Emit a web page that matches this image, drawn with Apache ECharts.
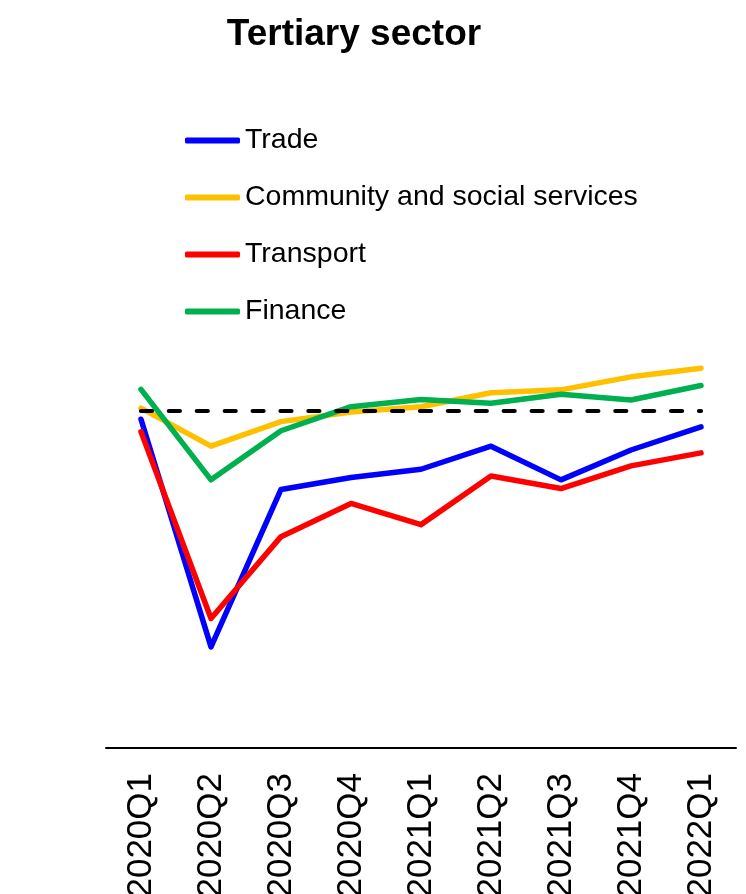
<!DOCTYPE html>
<html>
<head>
<meta charset="utf-8">
<title>Tertiary sector</title>
<script src="https://cdn.jsdelivr.net/npm/echarts@6/dist/echarts.min.js"></script>
<style>
  html, body { margin: 0; padding: 0; background: #fff; }
  #chart { width: 746px; height: 894px; }
</style>
</head>
<body>
<div id="chart"></div>
<script>
// Quarterly index levels by tertiary activity (reference level = 100)
const quarters = ['2020Q1', '2020Q2', '2020Q3', '2020Q4', '2021Q1', '2021Q2', '2021Q3', '2021Q4', '2022Q1'];
const trade = [98.3, 51.0, 83.7, 86.2, 87.9, 92.7, 85.7, 91.9, 96.7];
const community = [100.6, 92.7, 97.8, 99.8, 100.9, 103.8, 104.4, 107.1, 108.9];
const transport = [95.7, 56.9, 73.9, 80.8, 76.4, 86.5, 83.9, 88.6, 91.3];
const finance = [104.5, 85.7, 95.9, 100.9, 102.4, 101.6, 103.5, 102.3, 105.3];
const reference = [100, 100, 100, 100, 100, 100, 100, 100, 100];

const seriesNames = ['Trade', 'Community and social services', 'Transport', 'Finance'];
const seriesColors = ['#0000FF', '#FFC000', '#FF0000', '#00B050'];
const seriesValues = [trade, community, transport, finance];

const chart = echarts.init(document.getElementById('chart'), null, { renderer: 'canvas' });

const lineSeries = seriesNames.map((name, i) => ({
  name: name,
  type: 'line',
  data: seriesValues[i],
  symbol: 'none',
  color: seriesColors[i],
  lineStyle: { width: 5.5, color: seriesColors[i], cap: 'round', join: 'round' },
  z: 2 + i
}));

// dashed reference level across all quarters
lineSeries.push({
  name: 'Reference',
  type: 'line',
  data: reference,
  symbol: 'none',
  color: '#000',
  lineStyle: { width: 4.2, color: '#000', type: [11, 16.9], cap: 'round' },
  z: 10
});

chart.setOption({
  animation: false,
  backgroundColor: '#fff',
  title: {
    text: 'Tertiary sector',
    left: 354,
    textAlign: 'center',
    top: 16,
    padding: 0,
    textStyle: {
      fontFamily: 'Liberation Sans',
      fontWeight: 'bold',
      fontSize: 37,
      color: '#000'
    }
  },
  legend: {
    data: seriesNames,
    orient: 'vertical',
    left: 185,
    top: 126,
    padding: 0,
    itemWidth: 55,
    itemHeight: 6,
    itemGap: 28,
    icon: 'roundRect',
    textStyle: {
      fontFamily: 'Liberation Sans',
      fontSize: 28.5,
      color: '#000'
    }
  },
  grid: {
    left: 106,
    right: 10,
    top: 338.8,
    bottom: 146,
    containLabel: false,
    outerBoundsMode: 'none'
  },
  xAxis: {
    type: 'category',
    data: quarters,
    boundaryGap: true,
    axisLine: { show: true, lineStyle: { color: '#000', width: 2 } },
    axisTick: { show: false },
    axisLabel: {
      rotate: 90,
      margin: 25,
      fontFamily: 'Liberation Sans',
      fontSize: 35,
      color: '#000'
    },
    splitLine: { show: false }
  },
  yAxis: {
    type: 'value',
    min: 30,
    max: 115,
    show: false,
    splitLine: { show: false }
  },
  series: lineSeries
});
</script>
</body>
</html>
